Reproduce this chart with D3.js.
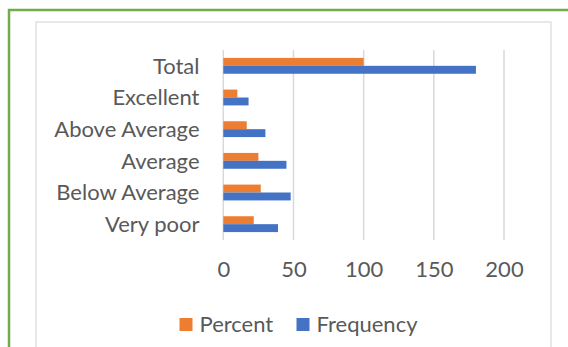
<!DOCTYPE html>
<html><head><meta charset="utf-8">
<script src="https://cdn.jsdelivr.net/npm/d3@7"></script>
<style>body{margin:0;background:#fff}svg{display:block}text{font-family:Lato,"Open Sans",sans-serif;fill:#595959}</style>
</head><body>
<script>
const categories = ["Total","Excellent","Above Average","Average","Below Average","Very poor"];
const seriesNames = ["Percent","Frequency"];
const percentValues = [100, 10, 16.7, 25, 26.7, 21.7];
const frequencyValues = [180, 18, 30, 45, 48, 39];
const xTicks = [0, 50, 100, 150, 200];
const colors = ["#ED7D31", "#4472C4"];

const W = 568, H = 347;
const svg = d3.select("body").append("svg").attr("width", W).attr("height", H);
svg.append("rect").attr("width", W).attr("height", H).attr("fill", "#fff");
// outer green frame
svg.append("rect").attr("x", 9).attr("y", 10).attr("width", 600).attr("height", 400)
  .attr("fill", "none").attr("stroke", "#70AD47").attr("stroke-width", 2.5);
// chart area border
svg.append("rect").attr("x", 36).attr("y", 22).attr("width", 515).attr("height", 400)
  .attr("fill", "none").attr("stroke", "#D9D9D9").attr("stroke-width", 1.2);

const x = d3.scaleLinear().domain([0, 200]).range([223.3, 504]);
const y = d3.scaleBand().domain(categories).range([50, 240]).paddingInner(0.5).paddingOuter(0.25);
const ys = d3.scaleBand().domain(seriesNames).range([0, y.bandwidth()]);

// gridlines
svg.append("g").selectAll("line").data(xTicks).join("line")
  .attr("x1", d => x(d)).attr("x2", d => x(d)).attr("y1", 50).attr("y2", 240)
  .attr("stroke", "#D9D9D9").attr("stroke-width", 1.5);

// tick labels
const xAxis = d3.axisBottom(x).tickValues(xTicks).tickSize(0).tickPadding(0);
const gx = svg.append("g").attr("transform", "translate(0,261)").call(xAxis);
gx.select(".domain").remove();
gx.selectAll("text").attr("fill", "#595959").style("font-size", "22px").attr("dy", "0.72em");

// category labels
const yAxis = d3.axisLeft(y).tickSize(0).tickPadding(0);
const gy = svg.append("g").attr("transform", "translate(199.5,0)").call(yAxis);
gy.select(".domain").remove();
gy.selectAll("text").attr("fill", "#595959").style("font-size", "22px").attr("dy", "0.36em");

const data = categories.map((c, i) => ({cat: c, vals: [
  {s: "Percent", v: percentValues[i]}, {s: "Frequency", v: frequencyValues[i]}]}));

const groups = svg.append("g").selectAll("g").data(data).join("g")
  .attr("transform", d => `translate(0,${y(d.cat)})`);
groups.selectAll("rect").data(d => d.vals).join("rect")
  .attr("x", x(0)).attr("y", d => ys(d.s)).attr("height", ys.bandwidth())
  .attr("width", d => x(d.v) - x(0))
  .attr("fill", d => colors[seriesNames.indexOf(d.s)]);

// legend
const legX = [179.5, 296.5];
const leg = svg.append("g").selectAll("g").data(seriesNames).join("g")
  .attr("transform", (d, i) => `translate(${legX[i]},318)`);
leg.append("rect").attr("width", 13).attr("height", 13).attr("fill", (d, i) => colors[i]);
leg.append("text").attr("x", 20).attr("y", 13.5).style("font-size", "22px").text(d => d);
</script>
</body></html>
